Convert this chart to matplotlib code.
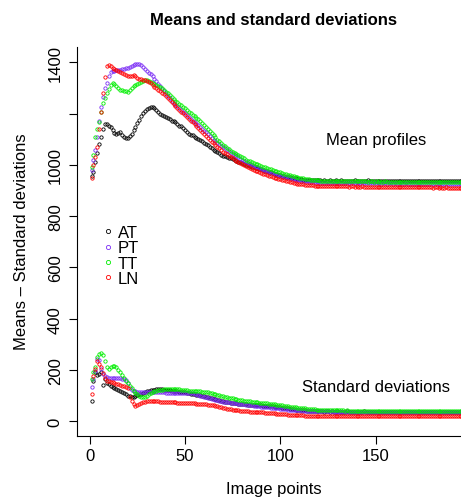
import matplotlib
matplotlib.use('Agg')
import matplotlib.pyplot as plt
from matplotlib.lines import Line2D

plt.rcParams['font.family'] = ['Liberation Sans', 'DejaVu Sans']

# Mean profiles (image points 1..196)
at_mean = [958, 972, 1010, 1045, 1080, 1110, 1140, 1160, 1158, 1150,
           1146, 1138, 1126, 1120, 1124, 1127, 1118, 1108, 1104, 1106,
           1112, 1122, 1135, 1148, 1162, 1175, 1190, 1204, 1212, 1218,
           1222, 1225, 1224, 1220, 1214, 1206, 1200, 1196, 1192, 1186,
           1182, 1178, 1172, 1170, 1166, 1158, 1152, 1150, 1144, 1135,
           1128, 1122, 1118, 1116, 1110, 1104, 1100, 1098, 1092, 1086,
           1080, 1076, 1070, 1064, 1060, 1056, 1052, 1046, 1040, 1036,
           1034, 1031, 1028, 1025, 1022, 1019, 1016, 1013, 1010, 1007,
           1004, 1001, 998, 996, 993, 991, 989, 987, 985, 983,
           980, 978, 975, 973, 971, 968, 966, 964, 962, 960,
           958, 956, 954, 952, 951, 949, 948, 947, 946, 945,
           944, 943, 943, 942, 942, 941, 941, 940, 940, 940,
           940, 938, 941, 939, 937, 940, 938, 939, 941, 937,
           938, 940, 937, 939, 938, 936, 939, 938, 940, 937,
           938, 936, 939, 937, 938, 940, 937, 938, 936, 939,
           937, 938, 939, 936, 938, 937, 939, 936, 937, 938,
           936, 939, 937, 938, 936, 937, 939, 937, 936, 938,
           937, 936, 938, 937, 939, 936, 937, 938, 936, 937,
           938, 936, 937, 939, 936, 937, 938, 936, 937, 937,
           936, 938, 937, 936, 937, 936]

pt_mean = [982, 1020, 1060, 1108, 1170, 1225, 1264, 1300, 1320, 1345,
           1362, 1366, 1368, 1369, 1370, 1372, 1373, 1374, 1376, 1378,
           1382, 1386, 1390, 1393, 1394, 1392, 1388, 1382, 1375, 1368,
           1360, 1354, 1346, 1336, 1326, 1316, 1306, 1296, 1287, 1278,
           1269, 1260, 1251, 1243, 1235, 1228, 1222, 1215, 1208, 1201,
           1194, 1187, 1180, 1173, 1166, 1160, 1154, 1148, 1141, 1134,
           1127, 1120, 1113, 1106, 1099, 1093, 1087, 1081, 1075, 1070,
           1064, 1058, 1053, 1048, 1043, 1038, 1033, 1029, 1024, 1020,
           1016, 1012, 1008, 1004, 1000, 997, 993, 990, 987, 984,
           981, 978, 975, 972, 970, 967, 965, 962, 960, 958,
           956, 954, 952, 950, 948, 946, 945, 943, 942, 940,
           939, 938, 937, 936, 935, 934, 933, 933, 932, 932,
           931, 931, 931, 930, 931, 930, 930, 930, 930, 929,
           930, 929, 929, 930, 929, 929, 929, 928, 929, 929,
           928, 929, 928, 928, 929, 928, 928, 928, 929, 928,
           928, 928, 927, 928, 928, 927, 928, 928, 927, 928,
           927, 927, 928, 927, 927, 928, 927, 927, 927, 926,
           927, 927, 926, 927, 927, 926, 927, 926, 926, 927,
           926, 926, 927, 926, 926, 926, 925, 926, 926, 925,
           926, 926, 925, 926, 925, 925]

tt_mean = [990, 1040, 1108, 1140, 1166, 1205, 1240, 1262, 1280, 1296,
           1310, 1320, 1316, 1306, 1298, 1294, 1292, 1290, 1288, 1286,
           1292, 1300, 1306, 1312, 1316, 1320, 1325, 1329, 1330, 1330,
           1326, 1322, 1318, 1314, 1310, 1306, 1302, 1298, 1292, 1286,
           1279, 1272, 1265, 1258, 1251, 1245, 1239, 1232, 1226, 1220,
           1214, 1208, 1202, 1196, 1190, 1184, 1178, 1170, 1162, 1155,
           1147, 1139, 1131, 1123, 1115, 1107, 1099, 1092, 1085, 1079,
           1073, 1067, 1061, 1055, 1050, 1046, 1041, 1037, 1033, 1029,
           1025, 1021, 1017, 1014, 1011, 1008, 1005, 1002, 999, 996,
           993, 990, 988, 985, 983, 980, 978, 976, 974, 971,
           968, 966, 964, 962, 960, 958, 956, 954, 952, 950,
           949, 947, 946, 945, 944, 943, 942, 941, 941, 940,
           939, 939, 938, 939, 938, 938, 937, 938, 938, 937,
           937, 938, 937, 937, 936, 937, 937, 936, 937, 936,
           936, 937, 936, 936, 936, 935, 936, 936, 935, 936,
           935, 936, 935, 935, 936, 935, 935, 935, 934, 935,
           935, 934, 935, 935, 934, 935, 934, 934, 935, 934,
           934, 935, 934, 934, 934, 933, 934, 934, 933, 934,
           934, 933, 934, 933, 934, 933, 933, 934, 933, 933,
           933, 934, 933, 933, 933, 933]

ln_mean = [948, 1000, 1030, 1069, 1140, 1205, 1280, 1342, 1387, 1390,
           1385, 1378, 1374, 1370, 1366, 1362, 1358, 1355, 1352, 1348,
           1346, 1348, 1350, 1345, 1340, 1336, 1334, 1332, 1330, 1326,
           1322, 1318, 1310, 1303, 1298, 1292, 1287, 1282, 1276, 1268,
           1260, 1252, 1244, 1236, 1229, 1222, 1215, 1208, 1201, 1194,
           1187, 1180, 1173, 1166, 1159, 1152, 1145, 1137, 1129, 1121,
           1113, 1105, 1098, 1091, 1084, 1077, 1070, 1064, 1058, 1052,
           1046, 1041, 1036, 1031, 1026, 1021, 1016, 1012, 1008, 1004,
           1000, 996, 992, 988, 984, 981, 978, 975, 972, 969,
           966, 963, 960, 957, 955, 952, 950, 948, 946, 944,
           942, 940, 938, 936, 934, 932, 930, 929, 927, 926,
           925, 924, 923, 922, 921, 920, 920, 919, 919, 918,
           918, 918, 917, 918, 917, 917, 917, 916, 917, 916,
           916, 917, 916, 916, 916, 915, 916, 916, 915, 916,
           915, 915, 916, 915, 915, 915, 914, 915, 915, 914,
           915, 914, 914, 915, 914, 914, 914, 913, 914, 914,
           913, 914, 913, 913, 914, 913, 913, 913, 912, 913,
           913, 912, 913, 912, 912, 913, 912, 912, 912, 911,
           912, 912, 911, 912, 911, 911, 912, 911, 911, 911,
           910, 911, 911, 910, 911, 910]

# Standard deviation profiles
at_sd = [80, 158, 191, 180, 185, 191, 142, 164, 150, 145,
         139, 135, 130, 126, 122, 118, 113, 110, 106, 100,
         98, 94, 94, 98, 102, 106, 108, 110, 114, 117,
         119, 121, 123, 124, 125, 126, 126, 125, 124, 123,
         122, 121, 120, 119, 118, 117, 116, 115, 114, 113,
         112, 110, 108, 106, 105, 104, 103, 102, 100, 98,
         96, 94, 92, 90, 88, 86, 84, 82, 80, 78,
         76, 75, 74, 73, 72, 71, 70, 69, 68, 67,
         66, 66, 65, 65, 64, 64, 63, 63, 62, 62,
         61, 61, 60, 60, 59, 58, 57, 56, 55, 54,
         53, 52, 51, 50, 49, 48, 47, 46, 46, 45,
         44, 44, 43, 42, 42, 41, 41, 40, 40, 40,
         39, 40, 38, 39, 39, 38, 39, 38, 38, 39,
         38, 37, 38, 38, 39, 37, 38, 38, 37, 38,
         38, 37, 38, 39, 37, 38, 37, 38, 38, 37,
         38, 37, 37, 38, 37, 38, 37, 37, 38, 37,
         37, 38, 37, 37, 38, 37, 37, 36, 37, 38,
         37, 37, 36, 37, 37, 38, 37, 36, 37, 37,
         37, 36, 37, 38, 37, 37, 36, 37, 37, 37,
         36, 37, 37, 36, 37, 37]

pt_sd = [133, 165, 197, 243, 238, 205, 184, 178, 172, 170,
         169, 168, 168, 168, 168, 167, 166, 164, 160, 148,
         128, 122, 119, 117, 116, 116, 115, 115, 115, 115,
         115, 115, 114, 114, 114, 113, 113, 113, 113, 112,
         112, 112, 112, 111, 111, 111, 111, 110, 110, 110,
         109, 109, 110, 110, 108, 105, 102, 100, 98, 96,
         94, 92, 90, 88, 86, 84, 82, 80, 79, 77,
         76, 75, 74, 73, 72, 71, 70, 69, 68, 67,
         66, 65, 64, 63, 62, 61, 60, 59, 58, 57,
         56, 55, 55, 54, 53, 52, 51, 50, 50, 49,
         48, 47, 47, 46, 45, 45, 44, 44, 43, 43,
         42, 42, 41, 41, 41, 40, 40, 40, 40, 39,
         39, 39, 39, 39, 39, 38, 39, 38, 38, 38,
         38, 38, 38, 38, 38, 38, 38, 38, 37, 38,
         38, 38, 38, 37, 38, 38, 38, 37, 38, 38,
         38, 37, 38, 38, 37, 38, 38, 38, 37, 38,
         38, 37, 38, 38, 38, 37, 38, 38, 37, 38,
         38, 38, 37, 38, 38, 37, 38, 38, 38, 37,
         38, 38, 37, 38, 38, 38, 37, 38, 38, 38,
         37, 38, 38, 37, 38, 38]

tt_sd = [165, 191, 210, 250, 262, 265, 258, 236, 212, 204,
         210, 217, 216, 210, 202, 192, 182, 170, 158, 148,
         138, 128, 119, 112, 106, 100, 96, 94, 96, 100,
         105, 110, 114, 117, 119, 121, 123, 124, 125, 126,
         126, 127, 127, 127, 126, 126, 125, 124, 123, 122,
         121, 120, 120, 119, 119, 118, 118, 117, 116, 115,
         114, 113, 111, 109, 107, 105, 103, 101, 99, 97,
         95, 94, 92, 90, 89, 87, 86, 84, 83, 82,
         81, 80, 79, 78, 77, 76, 75, 74, 73, 73,
         72, 71, 70, 69, 68, 67, 66, 65, 64, 63,
         62, 61, 60, 58, 57, 56, 55, 54, 53, 52,
         51, 50, 50, 49, 48, 48, 47, 47, 46, 46,
         45, 45, 45, 44, 44, 44, 44, 43, 43, 43,
         43, 43, 43, 42, 43, 42, 42, 42, 42, 42,
         42, 42, 41, 42, 42, 41, 42, 41, 41, 42,
         41, 41, 41, 42, 41, 41, 41, 41, 41, 41,
         41, 42, 41, 41, 41, 41, 40, 41, 41, 41,
         41, 41, 40, 41, 41, 41, 41, 40, 41, 41,
         41, 41, 41, 40, 41, 41, 41, 41, 40, 41,
         41, 41, 41, 41, 40, 41]

ln_sd = [106, 178, 204, 236, 225, 210, 190, 170, 158, 156,
         154, 152, 150, 147, 144, 140, 138, 136, 134, 130,
         94, 80, 66, 61, 62, 66, 70, 74, 77, 78,
         79, 80, 80, 80, 79, 78, 77, 76, 76, 75,
         75, 74, 74, 74, 74, 73, 73, 73, 72, 72,
         72, 71, 71, 70, 70, 69, 69, 68, 68, 67,
         66, 65, 64, 63, 62, 60, 58, 56, 54, 52,
         50, 49, 48, 47, 46, 45, 44, 43, 42, 41,
         40, 40, 39, 38, 38, 37, 37, 36, 36, 35,
         35, 34, 34, 33, 33, 32, 31, 30, 29, 29,
         28, 27, 27, 26, 26, 25, 25, 24, 24, 24,
         23, 23, 22, 22, 22, 21, 21, 21, 21, 20,
         20, 20, 20, 20, 20, 20, 19, 20, 20, 20,
         19, 20, 20, 19, 20, 19, 20, 19, 19, 20,
         19, 19, 20, 19, 19, 19, 20, 19, 19, 19,
         19, 20, 19, 19, 19, 19, 19, 20, 19, 19,
         19, 19, 19, 19, 20, 19, 19, 19, 19, 19,
         19, 19, 19, 19, 19, 19, 20, 19, 19, 19,
         19, 19, 19, 19, 19, 19, 19, 19, 19, 19,
         19, 19, 19, 19, 19, 19]

groups = ['AT', 'PT', 'TT', 'LN']
colors = ['black', '#7a2cf5', '#00ee00', '#ff0000']
means = [at_mean, pt_mean, tt_mean, ln_mean]
sds = [at_sd, pt_sd, tt_sd, ln_sd]
points = list(range(1, len(at_mean) + 1))

yticks = [0, 200, 400, 600, 800, 1000, 1200, 1400]
ytick_labels = ['0', '200', '400', '600', '800', '1000', '', '1400']
xticks = [0, 50, 100, 150]

W, H = 461, 502
fig = plt.figure(figsize=(W / 100, H / 100), dpi=100)
# plot region runs past the right edge of the picture, as in the original
ax = fig.add_axes([76.7 / W, (H - 437) / H, (478 - 76.7) / W, (437 - 48) / H])

mk = dict(marker='o', linestyle='none', markersize=2.4, markeredgewidth=0.6,
          markerfacecolor='none')
for m, s, c in zip(means, sds, colors):
    ax.plot(points, m, markeredgecolor=c, **mk)
    ax.plot(points, s, markeredgecolor=c, **mk)

ax.set_xlim(-6.8, 203.7)
ax.set_ylim(-57.3, 1459.8)
ax.spines['top'].set_visible(False)
ax.spines['right'].set_visible(False)
for sp in ['left', 'bottom']:
    ax.spines[sp].set_linewidth(0.8)

ax.set_xticks(xticks)
ax.set_yticks(yticks)
ax.set_yticklabels(ytick_labels, rotation=90, va='center')
ax.tick_params(axis='both', direction='out', length=6, width=0.8,
               labelsize=12, colors='black')
ax.tick_params(axis='y', pad=4)
ax.tick_params(axis='x', pad=3)

ax.text(150.2, 1083, 'Mean profiles', ha='center', va='baseline', fontsize=12)
ax.text(150.0, 119, 'Standard deviations', ha='center', va='baseline', fontsize=12)

handles = [Line2D([], [], markeredgecolor=c, **dict(mk, markersize=3.0))
           for c in colors]
ax.legend(handles, groups, loc='upper left', bbox_to_anchor=(0.063, 0.542),
          frameon=False, fontsize=12, handlelength=0.7, handletextpad=0.25,
          labelspacing=0.02, borderpad=0, borderaxespad=0)

fig.text(273.5 / W, 1 - 25 / H, 'Means and standard deviations',
         ha='center', va='baseline', fontsize=12, fontweight='bold')
fig.text(273.5 / W, 1 - 494 / H, 'Image points', ha='center', va='baseline',
         fontsize=12)
fig.text(22 / W, 1 - 242 / H, 'Means \u2013 Standard deviations', rotation=90,
         ha='center', va='center', fontsize=12)

fig.savefig('out.png', dpi=100)
